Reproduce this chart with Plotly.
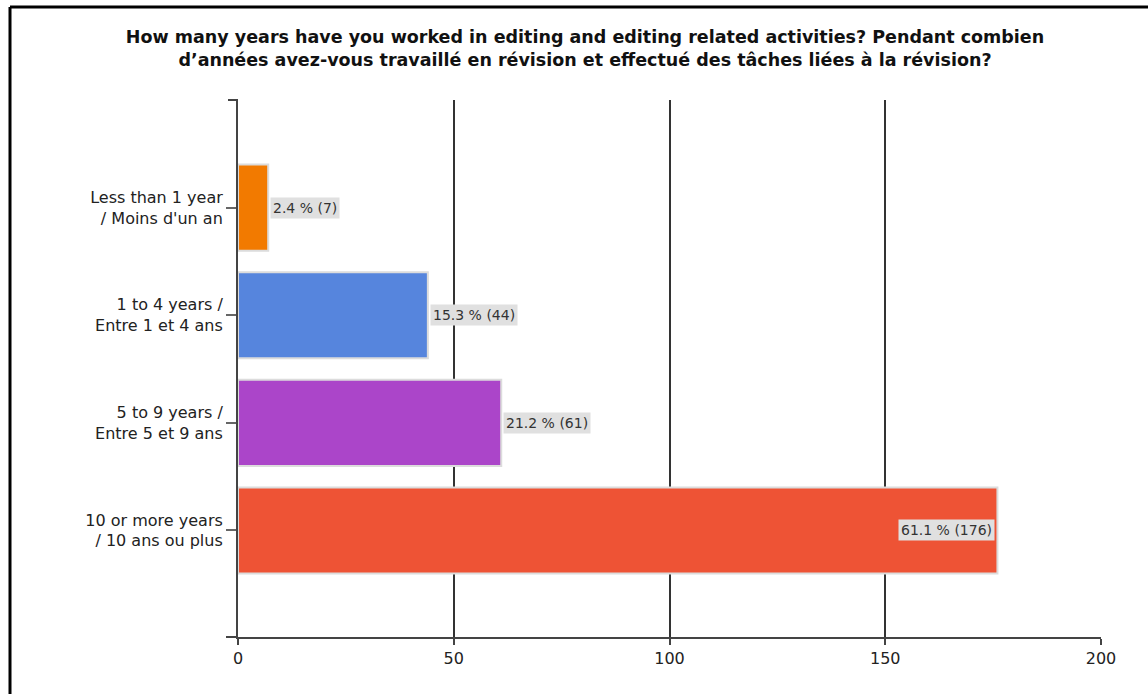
import plotly.graph_objects as go

# Survey responses: years worked in editing
categories = [
    "Less than 1 year<br>/ Moins d'un an",
    "1 to 4 years /<br>Entre 1 et 4 ans",
    "5 to 9 years /<br>Entre 5 et 9 ans",
    "10 or more years<br>/ 10 ans ou plus",
]
counts = [7, 44, 61, 176]
percents = [2.4, 15.3, 21.2, 61.1]
bar_colors = ["#F27A00", "#5685DD", "#AB45C9", "#EE5335"]
x_ticks = [0, 50, 100, 150, 200]

title_text = ("How many years have you worked in editing and editing related activities? Pendant combien<br>"
              "d\u2019ann\u00e9es avez-vous travaill\u00e9 en r\u00e9vision et effectu\u00e9 des t\u00e2ches li\u00e9es \u00e0 la r\u00e9vision?")

W, H = 1148, 694
ml, mr, mt, mb = 238, 47, 100, 57
pw, ph = W - ml - mr, H - mt - mb

SANS = "DejaVu Sans, Verdana, sans-serif"

fig = go.Figure()
fig.add_trace(go.Bar(
    y=categories, x=counts, orientation="h",
    marker=dict(color=bar_colors, line=dict(color="#DCDCDC", width=2)),
    width=0.8, hoverinfo="skip",
))

# value labels with grey boxes
for cat, c, p in zip(categories, counts, percents):
    inside = c > 150
    fig.add_annotation(
        x=c, y=cat, xref="x", yref="y",
        text=f"{p} % ({c})", showarrow=False,
        xanchor="right" if inside else "left",
        xshift=-2 if inside else 2,
        bgcolor="#E0E0E0", borderpad=2,
        font=dict(family=SANS, size=14, color="#333333"),
    )

fig.update_layout(
    width=W, height=H,
    margin=dict(l=ml, r=mr, t=mt, b=mb),
    paper_bgcolor="white", plot_bgcolor="white",
    showlegend=False,
    title=dict(
        text=title_text, x=(585 - ml) / pw, xref="paper", xanchor="center", y=1 - 43 / H, yanchor="middle",
        font=dict(family=SANS, size=17.5, color="#111111", weight="bold"),
    ),
    bargap=0.2,
)
fig.update_xaxes(
    range=[0, 200], tickvals=x_ticks, ticks="outside", ticklen=6, tickwidth=2, tickcolor="#444444",
    showgrid=True, gridcolor="#333333", gridwidth=1.5,
    showline=True, linecolor="#444444", linewidth=2, zeroline=False,
    tickfont=dict(family=SANS, size=16, color="#222222"),
)
fig.update_yaxes(
    range=[3.99, -1.0], ticks="outside", ticklen=10, tickwidth=2, tickcolor="#666666",
    showline=True, linecolor="#444444", linewidth=2, showgrid=False, zeroline=False,
    ticklabelstandoff=0,
    tickfont=dict(family=SANS, size=16, color="#222222"),
)

# top tick and left extension of the base line
fig.add_shape(type="line", xref="paper", yref="paper", x0=-10 / pw, x1=0, y0=1, y1=1,
              line=dict(color="#444444", width=2))
fig.add_shape(type="line", xref="paper", yref="paper", x0=-12 / pw, x1=0, y0=0, y1=0,
              line=dict(color="#444444", width=2))
# frame lines
fig.add_shape(type="line", xref="paper", yref="paper", x0=(10 - ml) / pw, x1=(W - ml) / pw,
              y0=(H - mb - 7) / ph, y1=(H - mb - 7) / ph, line=dict(color="black", width=3))
fig.add_shape(type="line", xref="paper", yref="paper", x0=(10 - ml) / pw, x1=(10 - ml) / pw,
              y0=(H - mb - 7) / ph, y1=-mb / ph, line=dict(color="black", width=3))

fig.write_html("out.html")
